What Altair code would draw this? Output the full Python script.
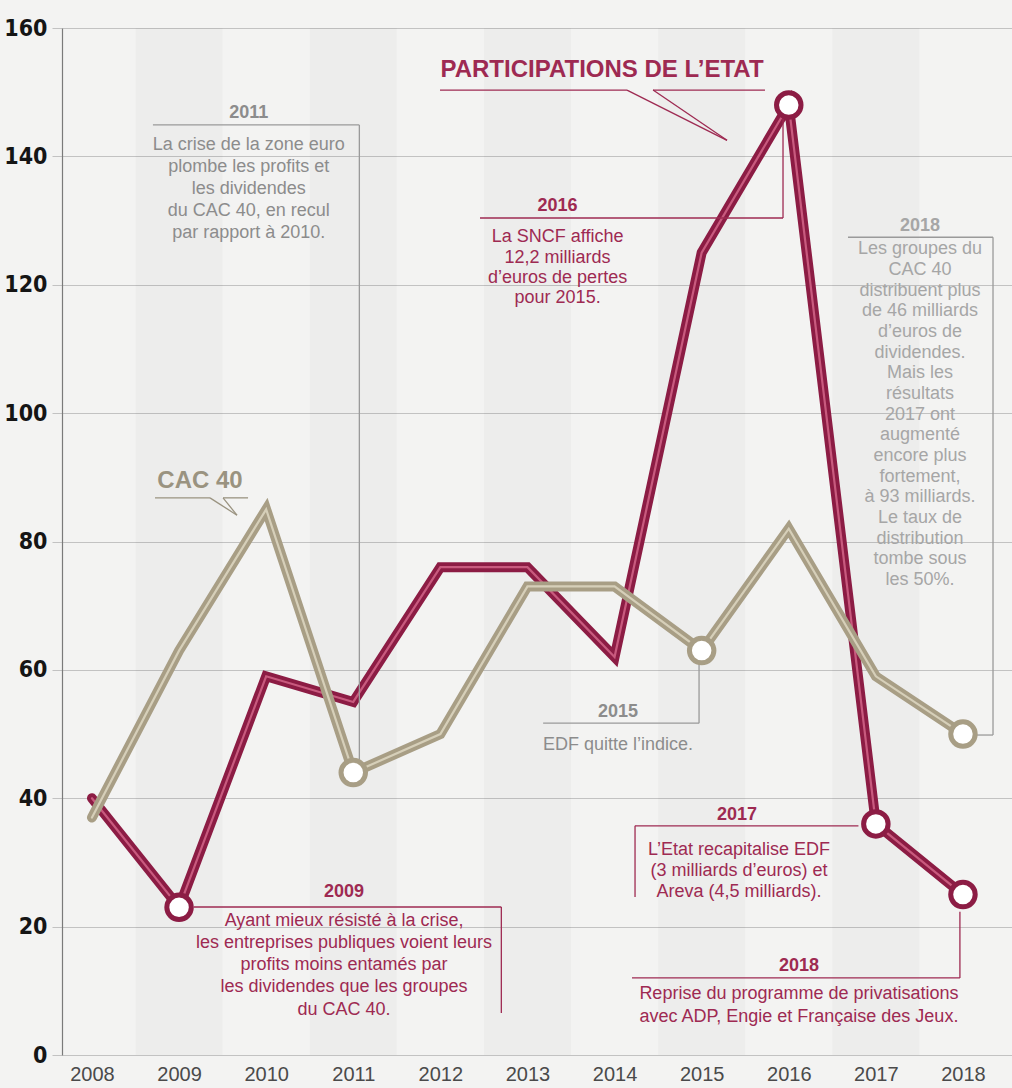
import altair as alt
import pandas as pd

# ---------------- data ----------------
years = list(range(2008, 2019))
etat = [40, 23, 59, 55, 76, 76, 62, 125, 148, 36, 25]
cac40 = [37, 63, 85, 44, 50, 73, 73, 63, 82, 59, 50]
etat_circle_years = [2009, 2016, 2017, 2018]
cac_circle_years = [2011, 2015, 2018]
y_ticks = [0, 20, 40, 60, 80, 100, 120, 140, 160]
band_years = [2009, 2011, 2013, 2015, 2017]

CRIMSON = "#8c1c44"
CRIMSON_TXT = "#9e2a52"
CRIMSON_HI = "#c85a7e"
KHAKI = "#a89e85"
KHAKI_HI = "#d6cfb9"
KHAKI_TXT = "#9a9380"
GREY_TXT = "#8c8c8c"
GREY_LIGHT = "#a6a6a6"
GREY_LINE = "#9a9a9a"

# series labels (text, x, y, colour)
series_labels = [
    ("PARTICIPATIONS DE L\u2019ETAT", 2013.856, 153.4, CRIMSON_TXT),
    ("CAC 40", 2009.24, 89.4, KHAKI_TXT),
]

# annotation titles (text, x, y, colour)
ann_titles = [
    ("2011", 2009.80, 146.8, GREY_TXT),
    ("2016", 2013.346, 132.26, CRIMSON_TXT),
    ("2018", 2017.507, 129.1, GREY_LIGHT),
    ("2015", 2014.04, 53.5, GREY_TXT),
    ("2017", 2015.406, 37.39, CRIMSON_TXT),
    ("2009", 2010.894, 25.4, CRIMSON_TXT),
    ("2018", 2016.117, 13.85, CRIMSON_TXT),
]

# annotation body lines
ann_2011 = ["La crise de la zone euro", "plombe les profits et", "les dividendes",
            "du CAC 40, en recul", "par rapport \u00e0 2010."]
ann_2016 = ["La SNCF affiche", "12,2 milliards", "d\u2019euros de pertes", "pour 2015."]
ann_2018c = ["Les groupes du", "CAC 40", "distribuent plus", "de 46 milliards",
             "d\u2019euros de", "dividendes.", "Mais les", "r\u00e9sultats", "2017 ont",
             "augment\u00e9", "encore plus", "fortement,", "\u00e0 93 milliards.",
             "Le taux de", "distribution", "tombe sous", "les 50%."]
ann_2015 = ["EDF quitte l\u2019indice."]
ann_2017 = ["L\u2019Etat recapitalise EDF", "(3 milliards d\u2019euros) et",
            "Areva (4,5 milliards)."]
ann_2009 = ["Ayant mieux r\u00e9sist\u00e9 \u00e0 la crise,",
            "les entreprises publiques voient leurs", "profits moins entam\u00e9s par",
            "les dividendes que les groupes", "du CAC 40."]
ann_2018e = ["Reprise du programme de privatisations",
             "avec ADP, Engie et Fran\u00e7aise des Jeux."]

# (lines, x centre, y of first line, y step, colour)
ann_blocks = [
    (ann_2011, 2009.80, 141.8, 3.43, GREY_TXT),
    (ann_2016, 2013.346, 127.43, 3.19, CRIMSON_TXT),
    (ann_2018c, 2017.507, 125.5, 3.22, GREY_LIGHT),
    (ann_2015, 2014.04, 48.3, 3.43, GREY_TXT),
    (ann_2017, 2015.429, 31.9, 3.27, CRIMSON_TXT),
    (ann_2009, 2010.894, 20.88, 3.45, CRIMSON_TXT),
    (ann_2018e, 2016.117, 9.5, 3.6, CRIMSON_TXT),
]

# callout segments (x, y, x2, y2, colour)
callouts = [
    # participations label underline + pointer
    (2011.996, 150.33, 2014.143, 150.33, CRIMSON_TXT),
    (2014.442, 150.33, 2015.727, 150.33, CRIMSON_TXT),
    (2014.143, 150.33, 2015.291, 142.5, CRIMSON_TXT),
    (2014.442, 150.33, 2015.291, 142.5, CRIMSON_TXT),
    # CAC 40 label underline + pointer
    (2008.724, 86.8, 2009.355, 86.8, KHAKI_TXT),
    (2009.505, 86.8, 2009.792, 86.8, KHAKI_TXT),
    (2009.355, 86.8, 2009.665, 84.1, KHAKI_TXT),
    (2009.505, 86.8, 2009.665, 84.1, KHAKI_TXT),
    # 2011
    (2008.70, 144.9, 2011.07, 144.9, GREY_LINE),
    (2011.07, 144.9, 2011.07, 46.0, GREY_LINE),
    # 2016
    (2012.455, 130.4, 2015.934, 130.4, CRIMSON_TXT),
    (2015.934, 130.4, 2015.934, 146.3, CRIMSON_TXT),
    # 2018 CAC
    (2016.68, 127.4, 2018.345, 127.4, GREY_LINE),
    (2018.345, 127.4, 2018.345, 49.85, GREY_LINE),
    (2018.16, 49.85, 2018.345, 49.85, GREY_LINE),
    # 2015
    (2013.18, 51.7, 2014.97, 51.7, GREY_LINE),
    (2014.97, 51.7, 2014.97, 60.8, GREY_LINE),
    # 2017
    (2014.235, 35.7, 2016.80, 35.7, CRIMSON_TXT),
    (2014.235, 35.7, 2014.235, 24.6, CRIMSON_TXT),
    # 2009
    (2009.17, 23.06, 2012.70, 23.06, CRIMSON_TXT),
    (2012.70, 23.06, 2012.70, 6.54, CRIMSON_TXT),
    # 2018 Etat
    (2014.2, 12.0, 2017.965, 12.0, CRIMSON_TXT),
    (2017.965, 12.0, 2017.965, 22.3, CRIMSON_TXT),
]

# ---------------- tables ----------------
df_etat = pd.DataFrame({"year": years, "value": etat})
df_cac = pd.DataFrame({"year": years, "value": cac40})
df_etat_c = df_etat[df_etat.year.isin(etat_circle_years)]
df_cac_c = df_cac[df_cac.year.isin(cac_circle_years)]
df_bands = pd.DataFrame({"x": [y - 0.5 for y in band_years],
                         "x2": [y + 0.5 for y in band_years]})
df_series = pd.DataFrame(series_labels, columns=["text", "x", "y", "color"])
df_titles = pd.DataFrame(ann_titles, columns=["text", "x", "y", "color"])
rows = []
for lines, xc, y0, dy, col in ann_blocks:
    for i, t in enumerate(lines):
        rows.append((t, xc, y0 - i * dy, col))
df_body = pd.DataFrame(rows, columns=["text", "x", "y", "color"])
df_call = pd.DataFrame(callouts, columns=["x", "y", "x2", "y2", "color"])

FONT = "Liberation Sans, Arial, Helvetica, sans-serif"
NARROW = "Liberation Sans Narrow, Arial Narrow, DejaVu Sans Condensed, Roboto Condensed, sans-serif"

XDOM = [2007.656, 2018.563]
xs = alt.Scale(domain=XDOM, nice=False, zero=False)
ys = alt.Scale(domain=[0, 160], nice=False)

x_axis = alt.Axis(values=years, format="d", grid=False, ticks=False, domain=False,
                  labelFont=FONT, labelFontSize=20, labelColor="#4a4a4a",
                  labelPadding=9, title=None, labelFlush=False)
y_axis = alt.Axis(values=y_ticks, grid=True, gridColor="#c2c2c2", gridWidth=1,
                  domain=True, domainColor="#7a7a7a", domainWidth=1.2,
                  ticks=True, tickSize=10, tickColor="#c2c2c2",
                  labelFont=NARROW, labelFontSize=23, labelFontWeight="bold",
                  labelColor="#151515", labelPadding=5, title=None)

bands = alt.Chart(df_bands).mark_rect(color="#000000", opacity=0.022).encode(
    x=alt.X("x:Q", scale=xs, axis=x_axis), x2="x2:Q",
    y=alt.value(0), y2=alt.value(1027))

base_axes = alt.Chart(df_etat).mark_line(opacity=0).encode(
    x=alt.X("year:Q", scale=xs, axis=x_axis),
    y=alt.Y("value:Q", scale=ys, axis=y_axis))

def line_layer(df, color, width):
    return alt.Chart(df).mark_line(color=color, strokeWidth=width, strokeJoin="miter",
                                   strokeCap="round").encode(
        x=alt.X("year:Q", scale=xs), y=alt.Y("value:Q", scale=ys))

def circle_layer(df, color):
    return alt.Chart(df).mark_point(shape="circle", filled=True, fill="#ffffff",
                                    stroke=color, strokeWidth=5, size=600,
                                    opacity=1).encode(
        x=alt.X("year:Q", scale=xs), y=alt.Y("value:Q", scale=ys))

callout_layer = alt.Chart(df_call).mark_rule(strokeWidth=1.3).encode(
    x=alt.X("x:Q", scale=xs), y=alt.Y("y:Q", scale=ys),
    x2="x2:Q", y2="y2:Q", color=alt.Color("color:N", scale=None))

def text_layer(df, size, weight, font):
    return alt.Chart(df).mark_text(fontSize=size, fontWeight=weight, font=font,
                                   align="center", baseline="middle").encode(
        x=alt.X("x:Q", scale=xs), y=alt.Y("y:Q", scale=ys),
        text="text:N", color=alt.Color("color:N", scale=None))

chart = alt.layer(
    bands,
    base_axes,
    line_layer(df_etat, CRIMSON, 10),
    line_layer(df_etat, CRIMSON_HI, 2.2),
    line_layer(df_cac, KHAKI, 10),
    line_layer(df_cac, KHAKI_HI, 2.2),
    callout_layer,
    circle_layer(df_etat_c, CRIMSON),
    circle_layer(df_cac_c, KHAKI),
    text_layer(df_series, 24, "bold", FONT),
    text_layer(df_titles, 18, "bold", FONT),
    text_layer(df_body, 18, "normal", FONT),
).properties(
    width=950, height=1027,
    autosize=alt.AutoSizeParams(type="none"),
    padding={"left": 62, "top": 28, "right": 0, "bottom": 33},
    background="#f3f3f2",
).configure_view(stroke=None)

chart.save("out.html", embed_options={"renderer": "svg", "actions": False})
